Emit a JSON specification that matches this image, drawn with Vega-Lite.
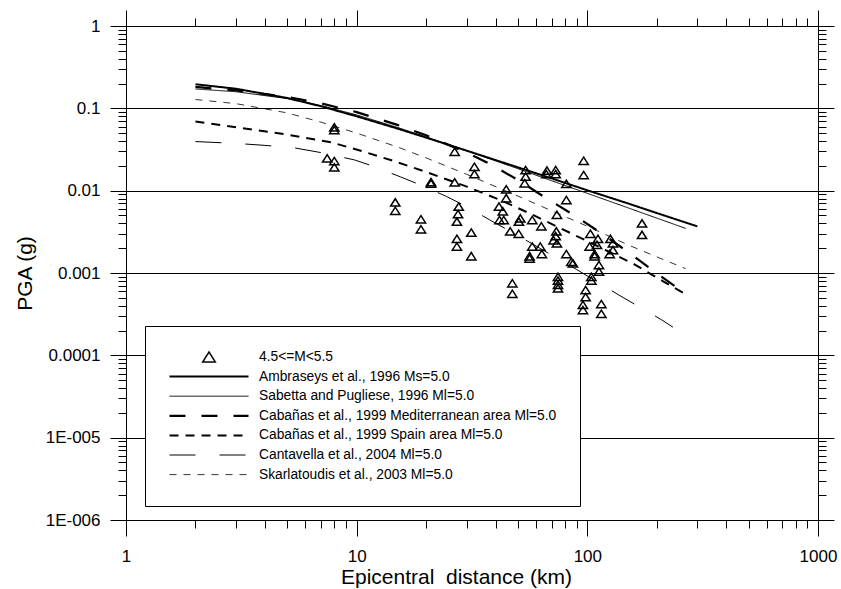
{
  "$schema": "https://vega.github.io/schema/vega-lite/v6.json",
  "width": 692,
  "height": 494,
  "autosize": {"type": "none"},
  "padding": {"left": 126, "top": 26, "right": 23, "bottom": 69},
  "background": "white",
  "config": {
    "font": "Liberation Sans",
    "view": {"stroke": "black", "strokeWidth": 1},
    "axis": {
      "domainColor": "black",
      "domainWidth": 1,
      "tickColor": "black",
      "tickWidth": 1,
      "labelColor": "black",
      "titleColor": "black",
      "labelFont": "Liberation Sans",
      "titleFont": "Liberation Sans",
      "titleFontWeight": "normal",
      "labelFontSize": 17,
      "titleFontSize": 21,
      "labelOverlap": false,
      "labelFlush": false,
      "labelBound": false
    },
    "legend": {
      "orient": "none",
      "legendX": 19,
      "legendY": 300,
      "fillColor": "white",
      "strokeColor": "black",
      "padding": 23,
      "cornerRadius": 0,
      "symbolSize": 6241,
      "symbolStrokeColor": "black",
      "symbolFillColor": "transparent",
      "symbolOpacity": 1,
      "labelFont": "Liberation Sans",
      "labelFontSize": 13.8,
      "labelColor": "black",
      "labelLimit": 600,
      "labelOffset": 9,
      "rowPadding": 3.6,
      "clipHeight": 16
    }
  },
  "datasets": {
    "curves": [
      {"series": "Ambraseys et al., 1996 Ms=5.0", "d": 2, "pga": 0.196},
      {"series": "Ambraseys et al., 1996 Ms=5.0", "d": 3, "pga": 0.173},
      {"series": "Ambraseys et al., 1996 Ms=5.0", "d": 5, "pga": 0.1335},
      {"series": "Ambraseys et al., 1996 Ms=5.0", "d": 7, "pga": 0.106},
      {"series": "Ambraseys et al., 1996 Ms=5.0", "d": 10, "pga": 0.080},
      {"series": "Ambraseys et al., 1996 Ms=5.0", "d": 15, "pga": 0.0569},
      {"series": "Ambraseys et al., 1996 Ms=5.0", "d": 20, "pga": 0.0441},
      {"series": "Ambraseys et al., 1996 Ms=5.0", "d": 30, "pga": 0.0306},
      {"series": "Ambraseys et al., 1996 Ms=5.0", "d": 50, "pga": 0.0192},
      {"series": "Ambraseys et al., 1996 Ms=5.0", "d": 70, "pga": 0.0141},
      {"series": "Ambraseys et al., 1996 Ms=5.0", "d": 100, "pga": 0.0101},
      {"series": "Ambraseys et al., 1996 Ms=5.0", "d": 150, "pga": 0.0070},
      {"series": "Ambraseys et al., 1996 Ms=5.0", "d": 200, "pga": 0.00535},
      {"series": "Ambraseys et al., 1996 Ms=5.0", "d": 300, "pga": 0.00368},

      {"series": "Sabetta and Pugliese, 1996 Ml=5.0", "d": 2, "pga": 0.172},
      {"series": "Sabetta and Pugliese, 1996 Ml=5.0", "d": 3, "pga": 0.159},
      {"series": "Sabetta and Pugliese, 1996 Ml=5.0", "d": 5, "pga": 0.1315},
      {"series": "Sabetta and Pugliese, 1996 Ml=5.0", "d": 7, "pga": 0.108},
      {"series": "Sabetta and Pugliese, 1996 Ml=5.0", "d": 10, "pga": 0.0831},
      {"series": "Sabetta and Pugliese, 1996 Ml=5.0", "d": 15, "pga": 0.0587},
      {"series": "Sabetta and Pugliese, 1996 Ml=5.0", "d": 20, "pga": 0.045},
      {"series": "Sabetta and Pugliese, 1996 Ml=5.0", "d": 30, "pga": 0.0305},
      {"series": "Sabetta and Pugliese, 1996 Ml=5.0", "d": 50, "pga": 0.0185},
      {"series": "Sabetta and Pugliese, 1996 Ml=5.0", "d": 70, "pga": 0.0132},
      {"series": "Sabetta and Pugliese, 1996 Ml=5.0", "d": 100, "pga": 0.00928},
      {"series": "Sabetta and Pugliese, 1996 Ml=5.0", "d": 150, "pga": 0.00619},
      {"series": "Sabetta and Pugliese, 1996 Ml=5.0", "d": 200, "pga": 0.00464},
      {"series": "Sabetta and Pugliese, 1996 Ml=5.0", "d": 267, "pga": 0.00348},

      {"series": "Cabañas et al., 1999 Mediterranean area Ml=5.0", "d": 2, "pga": 0.182},
      {"series": "Cabañas et al., 1999 Mediterranean area Ml=5.0", "d": 3, "pga": 0.165},
      {"series": "Cabañas et al., 1999 Mediterranean area Ml=5.0", "d": 5, "pga": 0.138},
      {"series": "Cabañas et al., 1999 Mediterranean area Ml=5.0", "d": 7, "pga": 0.115},
      {"series": "Cabañas et al., 1999 Mediterranean area Ml=5.0", "d": 10, "pga": 0.090},
      {"series": "Cabañas et al., 1999 Mediterranean area Ml=5.0", "d": 15, "pga": 0.063},
      {"series": "Cabañas et al., 1999 Mediterranean area Ml=5.0", "d": 20, "pga": 0.047},
      {"series": "Cabañas et al., 1999 Mediterranean area Ml=5.0", "d": 30, "pga": 0.029},
      {"series": "Cabañas et al., 1999 Mediterranean area Ml=5.0", "d": 38, "pga": 0.021},
      {"series": "Cabañas et al., 1999 Mediterranean area Ml=5.0", "d": 50, "pga": 0.0135},
      {"series": "Cabañas et al., 1999 Mediterranean area Ml=5.0", "d": 65, "pga": 0.0084},
      {"series": "Cabañas et al., 1999 Mediterranean area Ml=5.0", "d": 88, "pga": 0.0050},
      {"series": "Cabañas et al., 1999 Mediterranean area Ml=5.0", "d": 120, "pga": 0.0028},
      {"series": "Cabañas et al., 1999 Mediterranean area Ml=5.0", "d": 150, "pga": 0.0018},
      {"series": "Cabañas et al., 1999 Mediterranean area Ml=5.0", "d": 196, "pga": 0.00103},
      {"series": "Cabañas et al., 1999 Mediterranean area Ml=5.0", "d": 267, "pga": 0.00056},

      {"series": "Cabañas et al., 1999 Spain area Ml=5.0", "d": 2, "pga": 0.069},
      {"series": "Cabañas et al., 1999 Spain area Ml=5.0", "d": 3, "pga": 0.059},
      {"series": "Cabañas et al., 1999 Spain area Ml=5.0", "d": 5, "pga": 0.048},
      {"series": "Cabañas et al., 1999 Spain area Ml=5.0", "d": 7.8, "pga": 0.0385},
      {"series": "Cabañas et al., 1999 Spain area Ml=5.0", "d": 10.5, "pga": 0.0303},
      {"series": "Cabañas et al., 1999 Spain area Ml=5.0", "d": 14.5, "pga": 0.0229},
      {"series": "Cabañas et al., 1999 Spain area Ml=5.0", "d": 19.5, "pga": 0.0173},
      {"series": "Cabañas et al., 1999 Spain area Ml=5.0", "d": 30, "pga": 0.0112},
      {"series": "Cabañas et al., 1999 Spain area Ml=5.0", "d": 42, "pga": 0.0077},
      {"series": "Cabañas et al., 1999 Spain area Ml=5.0", "d": 57, "pga": 0.0052},
      {"series": "Cabañas et al., 1999 Spain area Ml=5.0", "d": 89, "pga": 0.00285},
      {"series": "Cabañas et al., 1999 Spain area Ml=5.0", "d": 120, "pga": 0.0019},
      {"series": "Cabañas et al., 1999 Spain area Ml=5.0", "d": 162, "pga": 0.00125},
      {"series": "Cabañas et al., 1999 Spain area Ml=5.0", "d": 215, "pga": 0.00078},
      {"series": "Cabañas et al., 1999 Spain area Ml=5.0", "d": 267, "pga": 0.00055},

      {"series": "Cantavella et al., 2004 Ml=5.0", "d": 2, "pga": 0.0395},
      {"series": "Cantavella et al., 2004 Ml=5.0", "d": 3, "pga": 0.0375},
      {"series": "Cantavella et al., 2004 Ml=5.0", "d": 4, "pga": 0.0355},
      {"series": "Cantavella et al., 2004 Ml=5.0", "d": 5.4, "pga": 0.033},
      {"series": "Cantavella et al., 2004 Ml=5.0", "d": 7, "pga": 0.029},
      {"series": "Cantavella et al., 2004 Ml=5.0", "d": 9.8, "pga": 0.0236},
      {"series": "Cantavella et al., 2004 Ml=5.0", "d": 12, "pga": 0.0195},
      {"series": "Cantavella et al., 2004 Ml=5.0", "d": 15.5, "pga": 0.0147},
      {"series": "Cantavella et al., 2004 Ml=5.0", "d": 20, "pga": 0.0110},
      {"series": "Cantavella et al., 2004 Ml=5.0", "d": 24.5, "pga": 0.0085},
      {"series": "Cantavella et al., 2004 Ml=5.0", "d": 30, "pga": 0.0064},
      {"series": "Cantavella et al., 2004 Ml=5.0", "d": 37.8, "pga": 0.0044},
      {"series": "Cantavella et al., 2004 Ml=5.0", "d": 50, "pga": 0.00285},
      {"series": "Cantavella et al., 2004 Ml=5.0", "d": 63, "pga": 0.00196},
      {"series": "Cantavella et al., 2004 Ml=5.0", "d": 90, "pga": 0.0011},
      {"series": "Cantavella et al., 2004 Ml=5.0", "d": 137, "pga": 0.00054},
      {"series": "Cantavella et al., 2004 Ml=5.0", "d": 170, "pga": 0.00038},
      {"series": "Cantavella et al., 2004 Ml=5.0", "d": 210, "pga": 0.00027},
      {"series": "Cantavella et al., 2004 Ml=5.0", "d": 235, "pga": 0.00022},

      {"series": "Skarlatoudis et al., 2003 Ml=5.0", "d": 2, "pga": 0.128},
      {"series": "Skarlatoudis et al., 2003 Ml=5.0", "d": 3, "pga": 0.114},
      {"series": "Skarlatoudis et al., 2003 Ml=5.0", "d": 5, "pga": 0.088},
      {"series": "Skarlatoudis et al., 2003 Ml=5.0", "d": 7, "pga": 0.068},
      {"series": "Skarlatoudis et al., 2003 Ml=5.0", "d": 10, "pga": 0.050},
      {"series": "Skarlatoudis et al., 2003 Ml=5.0", "d": 15, "pga": 0.034},
      {"series": "Skarlatoudis et al., 2003 Ml=5.0", "d": 20, "pga": 0.025},
      {"series": "Skarlatoudis et al., 2003 Ml=5.0", "d": 30, "pga": 0.0158},
      {"series": "Skarlatoudis et al., 2003 Ml=5.0", "d": 50, "pga": 0.0086},
      {"series": "Skarlatoudis et al., 2003 Ml=5.0", "d": 70, "pga": 0.0057},
      {"series": "Skarlatoudis et al., 2003 Ml=5.0", "d": 100, "pga": 0.0037},
      {"series": "Skarlatoudis et al., 2003 Ml=5.0", "d": 150, "pga": 0.0022},
      {"series": "Skarlatoudis et al., 2003 Ml=5.0", "d": 200, "pga": 0.00157},
      {"series": "Skarlatoudis et al., 2003 Ml=5.0", "d": 267, "pga": 0.00113}
    ],
    "events": [
      {"series": "4.5<=M<5.5", "d": 7.45, "pga": 0.0247},
      {"series": "4.5<=M<5.5", "d": 8.0, "pga": 0.0229},
      {"series": "4.5<=M<5.5", "d": 8.0, "pga": 0.0192},
      {"series": "4.5<=M<5.5", "d": 8.0, "pga": 0.0588},
      {"series": "4.5<=M<5.5", "d": 8.0, "pga": 0.0545},
      {"series": "4.5<=M<5.5", "d": 14.7, "pga": 0.0072},
      {"series": "4.5<=M<5.5", "d": 14.7, "pga": 0.0057},
      {"series": "4.5<=M<5.5", "d": 19.0, "pga": 0.0045},
      {"series": "4.5<=M<5.5", "d": 19.0, "pga": 0.0034},
      {"series": "4.5<=M<5.5", "d": 21.0, "pga": 0.0127},
      {"series": "4.5<=M<5.5", "d": 21.0, "pga": 0.0122},
      {"series": "4.5<=M<5.5", "d": 26.6, "pga": 0.0126},
      {"series": "4.5<=M<5.5", "d": 26.6, "pga": 0.0297},
      {"series": "4.5<=M<5.5", "d": 32.4, "pga": 0.0195},
      {"series": "4.5<=M<5.5", "d": 32.4, "pga": 0.0159},
      {"series": "4.5<=M<5.5", "d": 27.7, "pga": 0.0064},
      {"series": "4.5<=M<5.5", "d": 27.5, "pga": 0.0052},
      {"series": "4.5<=M<5.5", "d": 27.2, "pga": 0.0042},
      {"series": "4.5<=M<5.5", "d": 31.4, "pga": 0.0031},
      {"series": "4.5<=M<5.5", "d": 27.2, "pga": 0.0026},
      {"series": "4.5<=M<5.5", "d": 27.2, "pga": 0.0021},
      {"series": "4.5<=M<5.5", "d": 31.4, "pga": 0.0016},
      {"series": "4.5<=M<5.5", "d": 54.0, "pga": 0.0178},
      {"series": "4.5<=M<5.5", "d": 54.0, "pga": 0.0148},
      {"series": "4.5<=M<5.5", "d": 53.5, "pga": 0.0123},
      {"series": "4.5<=M<5.5", "d": 66.8, "pga": 0.0175},
      {"series": "4.5<=M<5.5", "d": 72.9, "pga": 0.0178},
      {"series": "4.5<=M<5.5", "d": 72.9, "pga": 0.0159},
      {"series": "4.5<=M<5.5", "d": 66.4, "pga": 0.0159},
      {"series": "4.5<=M<5.5", "d": 81.1, "pga": 0.0121},
      {"series": "4.5<=M<5.5", "d": 96.4, "pga": 0.0231},
      {"series": "4.5<=M<5.5", "d": 96.4, "pga": 0.0155},
      {"series": "4.5<=M<5.5", "d": 81.1, "pga": 0.0077},
      {"series": "4.5<=M<5.5", "d": 44.5, "pga": 0.0104},
      {"series": "4.5<=M<5.5", "d": 44.5, "pga": 0.0081},
      {"series": "4.5<=M<5.5", "d": 41.4, "pga": 0.0064},
      {"series": "4.5<=M<5.5", "d": 43.0, "pga": 0.0056},
      {"series": "4.5<=M<5.5", "d": 41.6, "pga": 0.0044},
      {"series": "4.5<=M<5.5", "d": 43.4, "pga": 0.0044},
      {"series": "4.5<=M<5.5", "d": 51.2, "pga": 0.0046},
      {"series": "4.5<=M<5.5", "d": 50.5, "pga": 0.0042},
      {"series": "4.5<=M<5.5", "d": 57.7, "pga": 0.0044},
      {"series": "4.5<=M<5.5", "d": 63.2, "pga": 0.0037},
      {"series": "4.5<=M<5.5", "d": 73.8, "pga": 0.0051},
      {"series": "4.5<=M<5.5", "d": 46.3, "pga": 0.0032},
      {"series": "4.5<=M<5.5", "d": 50.4, "pga": 0.0030},
      {"series": "4.5<=M<5.5", "d": 73.4, "pga": 0.0032},
      {"series": "4.5<=M<5.5", "d": 72.9, "pga": 0.0028},
      {"series": "4.5<=M<5.5", "d": 71.4, "pga": 0.0025},
      {"series": "4.5<=M<5.5", "d": 73.8, "pga": 0.0023},
      {"series": "4.5<=M<5.5", "d": 57.7, "pga": 0.0021},
      {"series": "4.5<=M<5.5", "d": 62.5, "pga": 0.0021},
      {"series": "4.5<=M<5.5", "d": 63.5, "pga": 0.0017},
      {"series": "4.5<=M<5.5", "d": 56.2, "pga": 0.0016},
      {"series": "4.5<=M<5.5", "d": 56.2, "pga": 0.0015},
      {"series": "4.5<=M<5.5", "d": 81.1, "pga": 0.0017},
      {"series": "4.5<=M<5.5", "d": 85.2, "pga": 0.00137},
      {"series": "4.5<=M<5.5", "d": 86.6, "pga": 0.00131},
      {"series": "4.5<=M<5.5", "d": 103.1, "pga": 0.0030},
      {"series": "4.5<=M<5.5", "d": 111.2, "pga": 0.0026},
      {"series": "4.5<=M<5.5", "d": 102.3, "pga": 0.0021},
      {"series": "4.5<=M<5.5", "d": 110.1, "pga": 0.0022},
      {"series": "4.5<=M<5.5", "d": 107.6, "pga": 0.0017},
      {"series": "4.5<=M<5.5", "d": 107.6, "pga": 0.0016},
      {"series": "4.5<=M<5.5", "d": 125.9, "pga": 0.0026},
      {"series": "4.5<=M<5.5", "d": 129.1, "pga": 0.0023},
      {"series": "4.5<=M<5.5", "d": 125.0, "pga": 0.0017},
      {"series": "4.5<=M<5.5", "d": 129.1, "pga": 0.0019},
      {"series": "4.5<=M<5.5", "d": 112.3, "pga": 0.00125},
      {"series": "4.5<=M<5.5", "d": 112.3, "pga": 0.00104},
      {"series": "4.5<=M<5.5", "d": 104.1, "pga": 0.0009},
      {"series": "4.5<=M<5.5", "d": 104.1, "pga": 0.00081},
      {"series": "4.5<=M<5.5", "d": 47.3, "pga": 0.00075},
      {"series": "4.5<=M<5.5", "d": 47.3, "pga": 0.00056},
      {"series": "4.5<=M<5.5", "d": 74.6, "pga": 0.0009},
      {"series": "4.5<=M<5.5", "d": 74.6, "pga": 0.00081},
      {"series": "4.5<=M<5.5", "d": 74.6, "pga": 0.00072},
      {"series": "4.5<=M<5.5", "d": 74.6, "pga": 0.00065},
      {"series": "4.5<=M<5.5", "d": 98.3, "pga": 0.00062},
      {"series": "4.5<=M<5.5", "d": 98.3, "pga": 0.00051},
      {"series": "4.5<=M<5.5", "d": 95.7, "pga": 0.00041},
      {"series": "4.5<=M<5.5", "d": 95.7, "pga": 0.000355},
      {"series": "4.5<=M<5.5", "d": 115.0, "pga": 0.00042},
      {"series": "4.5<=M<5.5", "d": 115.0, "pga": 0.00032},
      {"series": "4.5<=M<5.5", "d": 172.6, "pga": 0.0040},
      {"series": "4.5<=M<5.5", "d": 172.6, "pga": 0.0029}
    ]
  },
  "resolve": {"axis": {"x": "independent", "y": "independent"}},
  "layer": [
    {
      "data": {"name": "curves"},
      "mark": {"type": "line", "color": "black", "clip": true},
      "encoding": {
        "x": {
          "field": "d",
          "type": "quantitative",
          "scale": {"type": "log", "domain": [1, 1000], "nice": false},
          "axis": {
            "orient": "bottom",
            "title": "Epicentral\u00a0 distance (km)",
            "titleX": 330,
            "titleY": 57,
            "titleAlign": "center",
            "titleBaseline": "middle",
            "values": [1, 2, 3, 4, 5, 6, 7, 8, 9, 10, 20, 30, 40, 50, 60, 70, 80, 90, 100, 200, 300, 400, 500, 600, 700, 800, 900, 1000],
            "labelExpr": "abs(log(datum.value)/LN10 - round(log(datum.value)/LN10)) < 1e-6 ? format(datum.value, 'd') : ''",
            "tickSize": {"condition": {"test": "abs(log(datum.value)/LN10 - round(log(datum.value)/LN10)) < 1e-6", "value": 16}, "value": 8},
            "labelPadding": 12,
            "grid": false
          }
        },
        "y": {
          "field": "pga",
          "type": "quantitative",
          "scale": {"type": "log", "domain": [0.000001, 1], "nice": false},
          "axis": {
            "orient": "left",
            "title": "PGA (g)",
            "titleX": -101,
            "titleY": 247,
            "titleAngle": 270,
            "titleAlign": "center",
            "titleBaseline": "middle",
            "values": [0.000001, 0.000002, 0.000003, 0.000004, 0.000005, 0.000006, 0.000007, 0.000008, 0.000009, 0.00001, 0.00002, 0.00003, 0.00004, 0.00005, 0.00006, 0.00007, 0.00008, 0.00009, 0.0001, 0.0002, 0.0003, 0.0004, 0.0005, 0.0006, 0.0007, 0.0008, 0.0009, 0.001, 0.002, 0.003, 0.004, 0.005, 0.006, 0.007, 0.008, 0.009, 0.01, 0.02, 0.03, 0.04, 0.05, 0.06, 0.07, 0.08, 0.09, 0.1, 0.2, 0.3, 0.4, 0.5, 0.6, 0.7, 0.8, 0.9, 1],
            "labelExpr": "datum.value == 1 ? '1' : datum.value == 0.1 ? '0.1' : datum.value == 0.01 ? '0.01' : datum.value == 0.001 ? '0.001' : datum.value == 0.0001 ? '0.0001' : datum.value == 0.00001 ? '1E-005' : datum.value == 0.000001 ? '1E-006' : ''",
            "tickSize": {"condition": {"test": "abs(log(datum.value)/LN10 - round(log(datum.value)/LN10)) < 1e-6", "value": 16}, "value": 8},
            "labelPadding": 10,
            "grid": true,
            "gridColor": "black",
            "gridWidth": 1,
            "gridOpacity": {"condition": {"test": "abs(log(datum.value)/LN10 - round(log(datum.value)/LN10)) < 1e-6", "value": 1}, "value": 0}
          }
        },
        "detail": {"field": "series", "type": "nominal"},
        "strokeDash": {
          "field": "series",
          "type": "nominal",
          "scale": {
            "domain": ["4.5<=M<5.5", "Ambraseys et al., 1996 Ms=5.0", "Sabetta and Pugliese, 1996 Ml=5.0", "Cabañas et al., 1999 Mediterranean area Ml=5.0", "Cabañas et al., 1999 Spain area Ml=5.0", "Cantavella et al., 2004 Ml=5.0", "Skarlatoudis et al., 2003 Ml=5.0"],
            "range": [[1, 0], [1, 0], [1, 0], [16, 16], [9, 7], [26, 24], [7, 7]]
          },
          "legend": {"title": null}
        },
        "strokeWidth": {
          "field": "series",
          "type": "nominal",
          "scale": {
            "type": "ordinal",
            "domain": ["4.5<=M<5.5", "Ambraseys et al., 1996 Ms=5.0", "Sabetta and Pugliese, 1996 Ml=5.0", "Cabañas et al., 1999 Mediterranean area Ml=5.0", "Cabañas et al., 1999 Spain area Ml=5.0", "Cantavella et al., 2004 Ml=5.0", "Skarlatoudis et al., 2003 Ml=5.0"],
            "range": [1.5, 2, 1, 2.2, 2, 1, 0.8]
          },
          "legend": {"title": null}
        }
      }
    },
    {
      "data": {"name": "events"},
      "mark": {"type": "point", "filled": false, "color": "black", "opacity": 1, "size": 3364},
      "encoding": {
        "x": {
          "field": "d",
          "type": "quantitative",
          "scale": {"type": "log", "domain": [1, 1000], "nice": false},
          "axis": {
            "orient": "top",
            "title": null,
            "labels": false,
            "grid": false,
            "values": [1, 2, 3, 4, 5, 6, 7, 8, 9, 10, 20, 30, 40, 50, 60, 70, 80, 90, 100, 200, 300, 400, 500, 600, 700, 800, 900, 1000],
            "tickSize": {"condition": {"test": "abs(log(datum.value)/LN10 - round(log(datum.value)/LN10)) < 1e-6", "value": 16}, "value": 8}
          }
        },
        "y": {
          "field": "pga",
          "type": "quantitative",
          "scale": {"type": "log", "domain": [0.000001, 1], "nice": false},
          "axis": {
            "orient": "right",
            "title": null,
            "labels": false,
            "grid": false,
            "values": [0.000001, 0.000002, 0.000003, 0.000004, 0.000005, 0.000006, 0.000007, 0.000008, 0.000009, 0.00001, 0.00002, 0.00003, 0.00004, 0.00005, 0.00006, 0.00007, 0.00008, 0.00009, 0.0001, 0.0002, 0.0003, 0.0004, 0.0005, 0.0006, 0.0007, 0.0008, 0.0009, 0.001, 0.002, 0.003, 0.004, 0.005, 0.006, 0.007, 0.008, 0.009, 0.01, 0.02, 0.03, 0.04, 0.05, 0.06, 0.07, 0.08, 0.09, 0.1, 0.2, 0.3, 0.4, 0.5, 0.6, 0.7, 0.8, 0.9, 1],
            "tickSize": {"condition": {"test": "abs(log(datum.value)/LN10 - round(log(datum.value)/LN10)) < 1e-6", "value": 16}, "value": 8}
          }
        },
        "shape": {
          "field": "series",
          "type": "nominal",
          "scale": {
            "domain": ["4.5<=M<5.5", "Ambraseys et al., 1996 Ms=5.0", "Sabetta and Pugliese, 1996 Ml=5.0", "Cabañas et al., 1999 Mediterranean area Ml=5.0", "Cabañas et al., 1999 Spain area Ml=5.0", "Cantavella et al., 2004 Ml=5.0", "Skarlatoudis et al., 2003 Ml=5.0"],
            "range": ["M0,-0.127L0.16,0.127L-0.16,0.127Z", "M-1,0H1", "M-1,0H1", "M-1,0H1", "M-1,0H1", "M-1,0H1", "M-1,0H1"]
          },
          "legend": {"title": null}
        },
        "strokeWidth": {
          "field": "series",
          "type": "nominal",
          "scale": {
            "type": "ordinal",
            "domain": ["4.5<=M<5.5", "Ambraseys et al., 1996 Ms=5.0", "Sabetta and Pugliese, 1996 Ml=5.0", "Cabañas et al., 1999 Mediterranean area Ml=5.0", "Cabañas et al., 1999 Spain area Ml=5.0", "Cantavella et al., 2004 Ml=5.0", "Skarlatoudis et al., 2003 Ml=5.0"],
            "range": [1.5, 2, 1, 2.2, 2, 1, 0.8]
          },
          "legend": {"title": null}
        }
      }
    }
  ]
}
